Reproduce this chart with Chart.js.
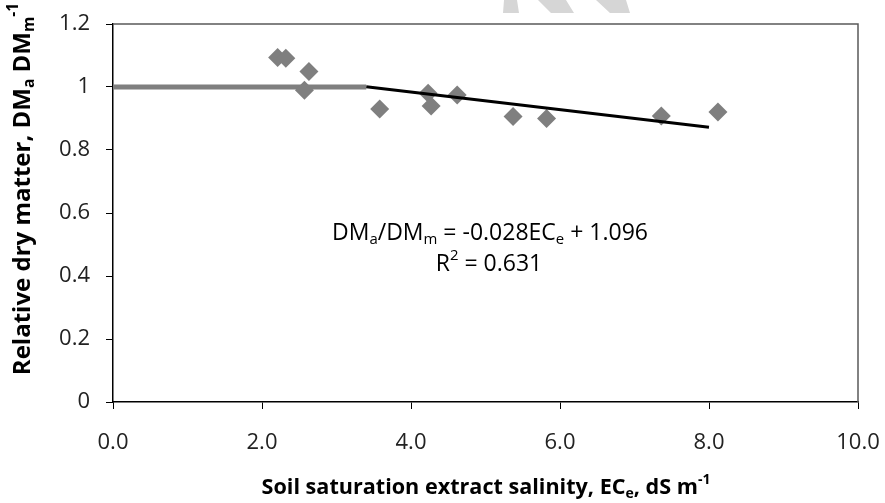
<!DOCTYPE html>
<html>
<head>
<meta charset="utf-8">
<script src="https://cdn.jsdelivr.net/npm/chart.js@4.4.1/dist/chart.umd.min.js"></script>
<style>
    html, body { margin: 0; padding: 0; background: #fff; }
    #wrap { width: 885px; height: 503px; }
</style>
</head>
<body>
<div id="wrap"><canvas id="salinityChart" width="885" height="503"></canvas></div>
<script>
// measured points (EC_e in dS/m, relative dry matter)
const salinity = [2.21, 2.32, 2.57, 2.63, 3.58, 4.23, 4.27, 4.62, 5.37, 5.82, 7.36, 8.12];
const relDryMatter = [1.094, 1.091, 0.990, 1.049, 0.930, 0.980, 0.940, 0.975, 0.906, 0.900, 0.908, 0.921];

// threshold (plateau) segment and declining segment
const plateauX = [0, 3.4];
const plateauY = [1.0, 1.0];
const declineX = [3.4, 8.0];
const declineY = [1.001, 0.872];

const xTickValues = [0, 2, 4, 6, 8, 10];
const yTickValues = [0, 0.2, 0.4, 0.6, 0.8, 1.0, 1.2];

const FONT = "'Open Sans', 'Noto Sans', sans-serif";
const GREY = '#7f7f7f';

function toPoints(xs, ys) {
    return xs.map((x, i) => ({ x: x, y: ys[i] }));
}

// draws text made of pieces with optional sub/superscript
function drawRich(ctx, parts, x, y, size, weight, align) {
    const measure = p => {
        const s = p.sub || p.sup ? size * 0.65 : size;
        ctx.font = `${weight} ${s}px ${FONT}`;
        return ctx.measureText(p.t).width;
    };
    const total = parts.reduce((w, p) => w + measure(p), 0);
    let cx = align === 'center' ? x - total / 2 : x;
    parts.forEach(p => {
        const s = p.sub || p.sup ? size * 0.65 : size;
        ctx.font = `${weight} ${s}px ${FONT}`;
        let dy = 0;
        if (p.sub) dy = size * 0.28;
        if (p.sup) dy = -size * 0.38;
        ctx.fillText(p.t, cx, y + dy);
        cx += ctx.measureText(p.t).width;
    });
}

const annotations = {
    id: 'annotations',
    beforeDraw(chart) {
        // faint watermark strokes behind the chart
        const ctx = chart.ctx;
        ctx.save();
        ctx.fillStyle = '#d6d6d6';
        ctx.beginPath();
        ctx.moveTo(504, 0); ctx.lineTo(517, 0); ctx.lineTo(519, 13); ctx.lineTo(503, 13);
        ctx.closePath();
        ctx.moveTo(538, 0); ctx.lineTo(566, 0); ctx.lineTo(574, 13); ctx.lineTo(551, 13);
        ctx.closePath();
        ctx.moveTo(596, 0); ctx.lineTo(626, 0); ctx.lineTo(630, 13); ctx.lineTo(610, 13);
        ctx.closePath();
        ctx.fill();
        ctx.restore();
    },
    beforeDatasetsDraw(chart) {
        const { ctx, chartArea } = chart;
        ctx.save();
        // plot area frame (top and right)
        ctx.strokeStyle = '#595959';
        ctx.lineWidth = 1.5;
        ctx.beginPath();
        ctx.moveTo(chartArea.left, chartArea.top);
        ctx.lineTo(chartArea.right, chartArea.top);
        ctx.lineTo(chartArea.right, chartArea.bottom);
        ctx.stroke();
        ctx.restore();
    },
    afterDraw(chart) {
        const { ctx } = chart;
        ctx.save();
        ctx.fillStyle = '#000';
        ctx.textBaseline = 'middle';
        ctx.textAlign = 'left';

        // regression equation
        drawRich(ctx, [
            { t: 'DM' }, { t: 'a', sub: true }, { t: '/DM' }, { t: 'm', sub: true },
            { t: ' = -0.028EC' }, { t: 'e', sub: true }, { t: ' + 1.096' }
        ], 490, 233, 23, 'normal', 'center');
        drawRich(ctx, [{ t: 'R' }, { t: '2', sup: true }, { t: ' = 0.631' }], 489, 264, 23, 'normal', 'center');

        // x axis title
        drawRich(ctx, [
            { t: 'Soil saturation extract salinity, EC' }, { t: 'e', sub: true },
            { t: ', dS m' }, { t: '-1', sup: true }
        ], 486, 488, 21.6, 'bold', 'center');

        // y axis title (rotated)
        ctx.translate(23, 189);
        ctx.rotate(-Math.PI / 2);
        drawRich(ctx, [
            { t: 'Relative dry matter, DM' }, { t: 'a', sub: true },
            { t: ' DM' }, { t: 'm', sub: true }, { t: '-1', sup: true }
        ], 0, 0, 24, 'bold', 'center');
        ctx.restore();
    }
};

function buildChart() {
    const ctx = document.getElementById('salinityChart').getContext('2d');
    new Chart(ctx, {
        type: 'scatter',
        data: {
            datasets: [
                {
                    label: 'Measured',
                    data: toPoints(salinity, relDryMatter),
                    pointStyle: 'rectRot',
                    pointRadius: 9.5,
                    backgroundColor: GREY,
                    borderColor: GREY,
                    borderWidth: 0,
                    order: 1
                },
                {
                    label: 'Threshold',
                    type: 'line',
                    data: toPoints(plateauX, plateauY),
                    borderColor: GREY,
                    borderWidth: 5,
                    pointRadius: 0,
                    fill: false,
                    order: 2
                },
                {
                    label: 'Decline',
                    type: 'line',
                    data: toPoints(declineX, declineY),
                    borderColor: '#000',
                    borderWidth: 3,
                    pointRadius: 0,
                    fill: false,
                    order: 0
                }
            ]
        },
        options: {
            responsive: false,
            animation: false,
            layout: { padding: { left: 0, right: 27, top: 24, bottom: 0 } },
            plugins: {
                legend: { display: false },
                tooltip: { enabled: false }
            },
            scales: {
                x: {
                    type: 'linear',
                    min: 0,
                    max: 10,
                    afterBuildTicks: scale => { scale.ticks = xTickValues.map(v => ({ value: v })); },
                    afterFit: scale => {
                        scale.height = 101;
                        scale.paddingLeft = 0;
                        scale.paddingRight = 0;
                    },
                    grid: { drawOnChartArea: false, tickLength: 7, color: '#000' },
                    border: { color: '#000', width: 1.5 },
                    ticks: {
                        padding: 21,
                        color: '#222',
                        font: { family: FONT, size: 22 },
                        callback: v => Number(v).toFixed(1)
                    }
                },
                y: {
                    type: 'linear',
                    min: 0,
                    max: 1.2,
                    afterBuildTicks: scale => { scale.ticks = yTickValues.map(v => ({ value: v })); },
                    afterFit: scale => {
                        scale.width = 113;
                        scale.paddingTop = 0;
                        scale.paddingBottom = 0;
                    },
                    grid: { drawOnChartArea: false, tickLength: 7, color: '#000' },
                    border: { color: '#000', width: 1.5 },
                    ticks: {
                        padding: 16,
                        color: '#222',
                        font: { family: FONT, size: 22 },
                        callback: v => String(Math.round(v * 10) / 10)
                    }
                }
            }
        },
        plugins: [annotations]
    });
}

document.addEventListener('DOMContentLoaded', () => {
    buildChart();
});
</script>
</body>
</html>
